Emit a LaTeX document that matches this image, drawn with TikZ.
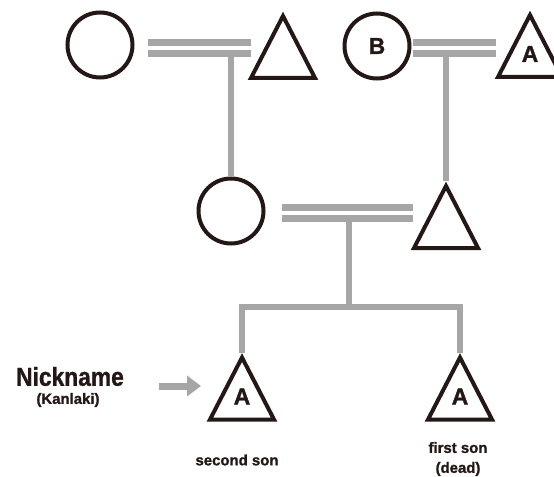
\documentclass[tikz,border=0pt]{standalone}
\usepackage{fontspec}
\setmainfont{Liberation Sans}
\newfontfamily\heavy[FakeBold=1.2]{Liberation Sans Bold}
\usetikzlibrary{arrows.meta}
\definecolor{ink}{HTML}{231815}
\definecolor{kin}{HTML}{A6A6A6}
\tikzset{
  female/.style={circle, draw=ink, line width=4bp, minimum size=65bp, inner sep=0pt,
    text=ink, font=\heavy\fontsize{23}{23}\selectfont},
  marriage/.style={draw=kin, line width=7bp, double=white, double distance=4bp},
  descent/.style={draw=kin, line width=6bp, line join=miter},
  pointer/.style={draw=kin, line width=7bp, -{Triangle[width=20bp,length=14bp]}},
  caption/.style={text=ink, font=\heavy\fontsize{15}{20}\selectfont, align=center, inner sep=0pt},
  male/.pic={
    \draw[ink, line width=4bp, line join=miter] (0,0) -- (-32,62) -- (32,62) -- cycle;
    \coordinate (-top) at (0,-4.5);
    \node[text=ink, font=\heavy\fontsize{23}{23}\selectfont, inner sep=0pt] (-label) at (0,39) {#1};
  },
}
\begin{document}
\begin{tikzpicture}[x=1bp, y=-1bp]
  \useasboundingbox (0,0) rectangle (554,477);
  \clip (0,0) rectangle (554,477);

  % first generation
  \node[female] (gm1) at (100,45) {};
  \pic (gf1) at (283,16) {male=};
  \node[female] (gm2) at (377,46) {B};
  \pic (gf2) at (530,15) {male=A};

  % second generation
  \node[female] (mo) at (231,211) {};
  \pic (fa) at (446,186) {male=};

  % children
  \pic (son2) at (242,357.5) {male=A};
  \pic (son1) at (460,357.5) {male=A};

  % couple and sibship anchors
  \coordinate (u1l) at (148,48.5);  \coordinate (u1r) at (251,48.5);  \coordinate (u1) at (231,48.5);
  \coordinate (u2l) at (413,48);    \coordinate (u2r) at (496,48);    \coordinate (u2) at (446,48);
  \coordinate (u3l) at (282,213);   \coordinate (u3r) at (413,213);   \coordinate (u3) at (349,213);
  \coordinate (sib) at (349,307);

  % lines of descent
  \draw[descent] (u1) -- (mo.north);
  \draw[descent] (u2) -- (fa-top);
  \draw[descent] (u3) -- (sib);
  \draw[descent] (son2-top) |- (sib) -| (son1-top);

  % marriages
  \draw[marriage] (u1l) -- (u1r);
  \draw[marriage] (u2l) -- (u2r);
  \draw[marriage] (u3l) -- (u3r);

  % captions
  \node[caption, font=\heavy\fontsize{26}{26}\selectfont] (nick) at (70,376.5) {\scalebox{0.88}[1]{Nickname}};
  \node[caption] (nick2) at (68,400) {(Kanlaki)};
  \coordinate (pt) at (159,386);
  \coordinate (ph) at (201,386);
  \draw[pointer] (pt) -- (ph);
  \node[caption] (cap2) at (237,460) {second son};
  \node[caption] (cap1) at (458,459) {first son\\(dead)};
\end{tikzpicture}
\end{document}
